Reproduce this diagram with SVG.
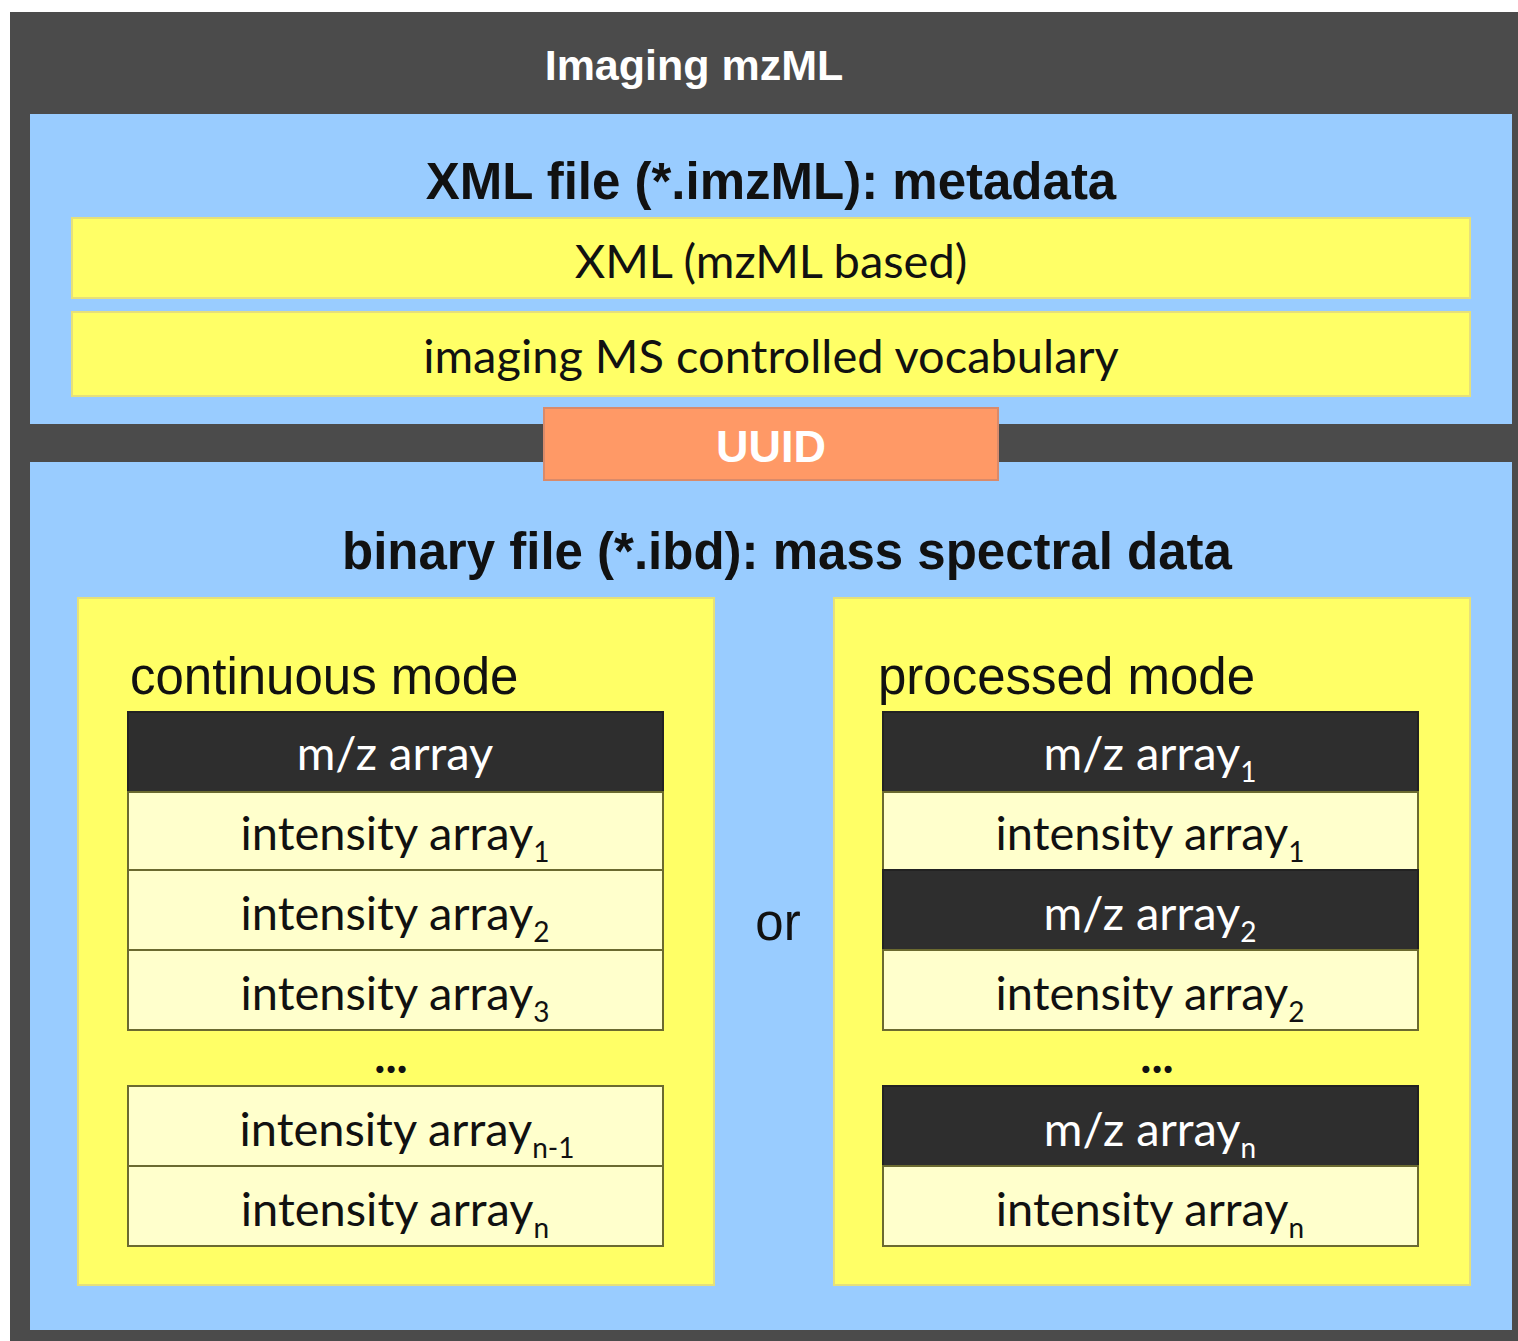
<svg xmlns="http://www.w3.org/2000/svg" width="1518" height="1341" viewBox="0 0 1518 1341">
<style>
.frame{fill:#4b4b4b}
.blue{fill:#99ccff}
.yel{fill:#ffff66;stroke:#e6e07a;stroke-width:2}
.dark{fill:#2e2e2e;stroke:#222;stroke-width:2}
.light{fill:#ffffcc;stroke:#6b6a30;stroke-width:2}
.h{font-family:"Liberation Sans",Arial,sans-serif;font-weight:bold;text-anchor:middle}
.c{font-family:Lato,"Open Sans",sans-serif;font-size:47px;text-anchor:middle}
.w{fill:#ffffff}
.k{fill:#111111}
.m{font-family:"Liberation Sans",Arial,sans-serif;font-size:51px;fill:#111}
.sub{font-size:28px}
</style>
<rect x="0" y="0" width="1518" height="1341" fill="#ffffff"/>
<rect class="frame" x="10" y="12" width="1508" height="1329"/>
<g id="title"><text class="h w" x="694" y="80" font-size="43">Imaging mzML</text></g>
<g id="xml-panel">
<rect class="blue" x="30" y="114" width="1482" height="310"/>
<text class="h k" x="771" y="199" font-size="51">XML file (*.imzML): metadata</text>
</g>
<g id="xml-bar">
<rect class="yel" x="72" y="218" width="1398" height="80"/>
<text class="c k" x="771" y="278">XML (mzML based)</text>
</g>
<g id="vocab-bar">
<rect class="yel" x="72" y="312" width="1398" height="84"/>
<text class="c k" x="771" y="373">imaging MS controlled vocabulary</text>
</g>
<g id="binary-panel">
<rect class="blue" x="30" y="462" width="1482" height="868"/>
<text class="h k" x="787" y="569" font-size="51">binary file (*.ibd): mass spectral data</text>
</g>
<g id="uuid">
<rect x="544" y="408" width="454" height="72" fill="#ff9966" stroke="#d98a6a" stroke-width="2"/>
<text class="h w" x="771" y="462" font-size="45">UUID</text>
</g>
<g id="continuous">
<rect class="yel" x="78" y="598" width="636" height="687"/>
<text class="m" x="130" y="694">continuous mode</text>
<rect class="dark" x="128" y="712" width="535" height="80"/>
<text class="c w" x="395" y="770">m/z array</text>
<rect class="light" x="128" y="792" width="535" height="78"/>
<text class="c k" x="395" y="850">intensity array<tspan class="sub" dy="12">1</tspan></text>
<rect class="light" x="128" y="870" width="535" height="80"/>
<text class="c k" x="395" y="930">intensity array<tspan class="sub" dy="12">2</tspan></text>
<rect class="light" x="128" y="950" width="535" height="80"/>
<text class="c k" x="395" y="1010">intensity array<tspan class="sub" dy="12">3</tspan></text>
<text class="c k" x="391" y="1073" font-weight="bold" font-size="40">...</text>
<rect class="light" x="128" y="1086" width="535" height="80"/>
<text class="c k" x="407" y="1146">intensity array<tspan class="sub" dy="12">n-1</tspan></text>
<rect class="light" x="128" y="1166" width="535" height="80"/>
<text class="c k" x="395" y="1226">intensity array<tspan class="sub" dy="12">n</tspan></text>
</g>
<g id="or"><text class="m" x="778" y="940" text-anchor="middle" font-size="47">or</text></g>
<g id="processed">
<rect class="yel" x="834" y="598" width="636" height="687"/>
<text class="m" x="878" y="694">processed mode</text>
<rect class="dark" x="883" y="712" width="535" height="80"/>
<text class="c w" x="1150" y="770">m/z array<tspan class="sub" dy="12">1</tspan></text>
<rect class="light" x="883" y="792" width="535" height="78"/>
<text class="c k" x="1150" y="850">intensity array<tspan class="sub" dy="12">1</tspan></text>
<rect class="dark" x="883" y="870" width="535" height="80"/>
<text class="c w" x="1150" y="930">m/z array<tspan class="sub" dy="12">2</tspan></text>
<rect class="light" x="883" y="950" width="535" height="80"/>
<text class="c k" x="1150" y="1010">intensity array<tspan class="sub" dy="12">2</tspan></text>
<text class="c k" x="1157" y="1073" font-weight="bold" font-size="40">...</text>
<rect class="dark" x="883" y="1086" width="535" height="80"/>
<text class="c w" x="1150" y="1146">m/z array<tspan class="sub" dy="12">n</tspan></text>
<rect class="light" x="883" y="1166" width="535" height="80"/>
<text class="c k" x="1150" y="1226">intensity array<tspan class="sub" dy="12">n</tspan></text>
</g>
<g id="connectors"></g>
</svg>
